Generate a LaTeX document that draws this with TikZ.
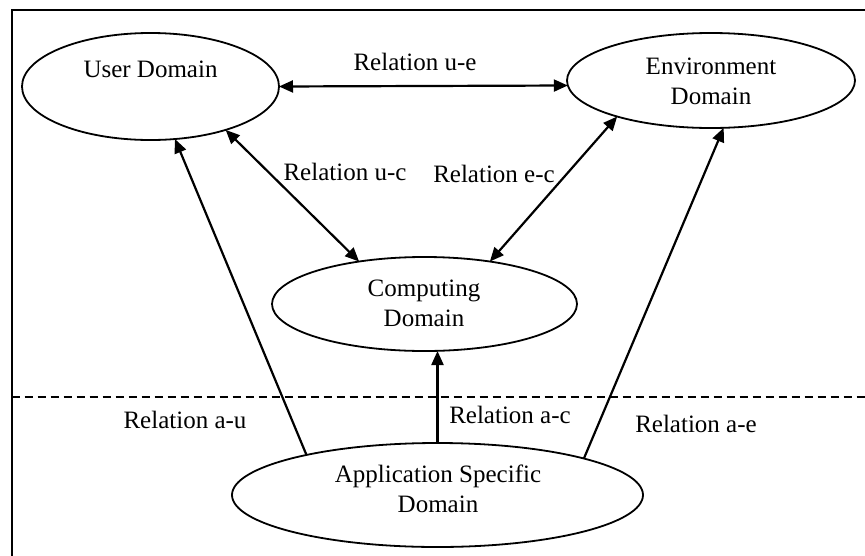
\documentclass[tikz,border=0pt]{standalone}
\usepackage{fontspec}
\setmainfont{Liberation Serif}
\usetikzlibrary{arrows.meta,shapes.geometric}
\begin{document}
\begin{tikzpicture}[x=1pt,y=-1pt,
  dom/.style={draw, ellipse, line width=1.8pt, inner sep=0pt, outer sep=0pt},
  lbl/.style={font=\fontsize{25}{30.5}\selectfont, inner sep=0pt, anchor=base},
  txt/.style={font=\fontsize{25}{30.5}\selectfont, inner sep=0pt, align=center},
  rel/.style={line width=2.2pt, -{Triangle[length=14pt,width=12pt]}},
  birel/.style={line width=2.2pt, {Triangle[length=14pt,width=12pt]}-{Triangle[length=14pt,width=12pt]}},
  framel/.style={line width=2.2pt},
  sep/.style={line width=1.6pt, dash pattern=on 8pt off 5pt}]
\useasboundingbox (0,0) rectangle (865,555);
% frame (only top and left sides visible)
\draw[framel] (11.7,557) -- (11.7,10) -- (867,10);
% separator
\draw[sep] (11.7,397) -- (866,397);
% domains
\node[dom, minimum width=257pt, minimum height=107pt] (ud) at (150.5,86.5) {};
\node[dom, minimum width=288pt, minimum height=95pt] (ed) at (711,80.5) {};
\node[dom, minimum width=305pt, minimum height=94pt] (cd) at (424.5,304) {};
\node[dom, minimum width=411pt, minimum height=104pt] (ad) at (437.5,495) {};
% domain texts
\node[lbl] (tu) at (150.5,77) {User Domain};
\node[txt] (te) at (711,81.5) {Environment\\Domain};
\node[txt] (tc) at (424,303.5) {Computing\\Domain};
\node[txt] (ta) at (438,489) {Application Specific\\Domain};
% connectors
\draw[birel] (ud.0) -- (ed.182);
\draw[birel] (ud.-30.3) -- (cd.147.1);
\draw[birel] (ed.201.8) -- (cd.33.1);
\draw[rel] (ad.163.55) -- (ud.-65);
\draw[rel] (ad.north) -- (ad.north |- cd.south);
\draw[rel] (ad.14) -- (ed.-75.5);
% relation labels
\node[lbl] (lue) at (415,70) {Relation u-e};
\node[lbl] (luc) at (345,180) {Relation u-c};
\node[lbl] (lec) at (494,182) {Relation e-c};
\node[lbl] (lau) at (185,428) {Relation a-u};
\node[lbl] (lac) at (510,423) {Relation a-c};
\node[lbl] (lae) at (696,432) {Relation a-e};
\end{tikzpicture}
\end{document}
